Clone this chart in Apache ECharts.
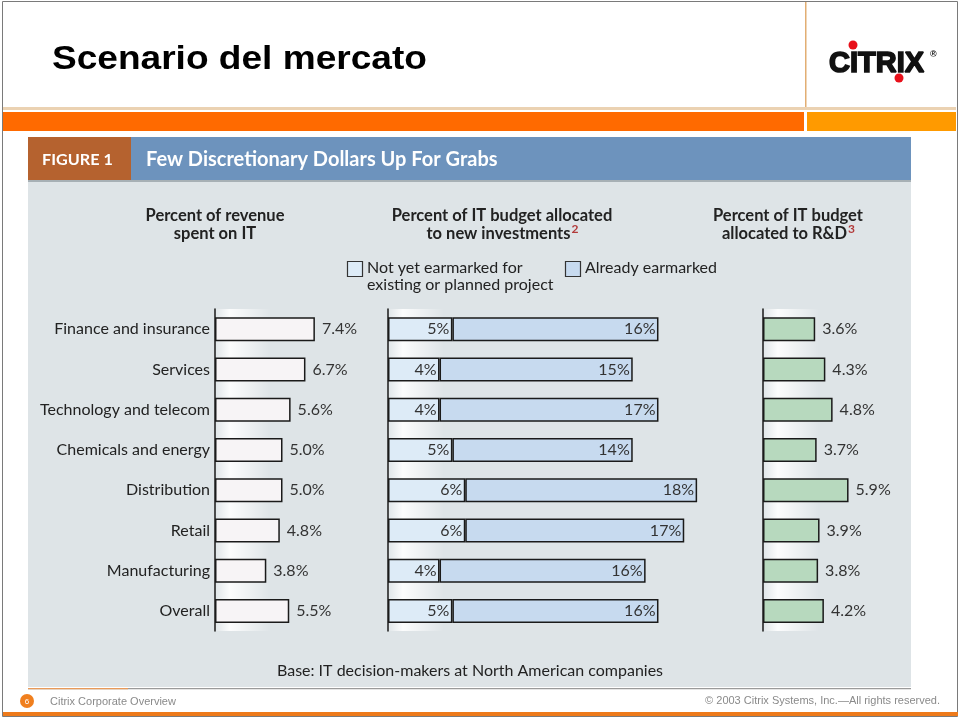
<!DOCTYPE html>
<html>
<head>
<meta charset="utf-8">
<script src="https://cdn.jsdelivr.net/npm/echarts@6/dist/echarts.min.js"></script>
<style>
html,body{margin:0;padding:0;background:#fff;}
#chart{width:960px;height:721px;}
</style>
</head>
<body>
<div id="chart"></div>
<script>
const categories = ['Finance and insurance','Services','Technology and telecom','Chemicals and energy','Distribution','Retail','Manufacturing','Overall'];
const revenueSpentOnIT = [7.4, 6.7, 5.6, 5.0, 5.0, 4.8, 3.8, 5.5];
const notYetEarmarked = [5, 4, 4, 5, 6, 6, 4, 5];
const alreadyEarmarked = [16, 15, 17, 14, 18, 17, 16, 16];
const budgetToRD = [3.6, 4.3, 4.8, 3.7, 5.9, 3.9, 3.8, 4.2];

const FONT = 'Lato, "Open Sans", sans-serif';
const ARIAL = '"Liberation Sans", Arial, sans-serif';
const mctx = document.createElement('canvas').getContext('2d');
function tw(t, f){ mctx.font = f; return mctx.measureText(t).width; }

function txt(x, y, text, opts){
  opts = opts || {};
  const size = opts.size || 16, weight = opts.weight || 'normal', fam = opts.family || FONT;
  const align = opts.align || 'left', va = opts.va || 'middle';
  const st = {
    text:text, fill: opts.color || '#222',
    fontSize:size, fontWeight:weight, fontFamily:fam,
    align:align, textAlign:align, verticalAlign:va, textVerticalAlign:va
  };
  if (opts.stroke){ st.stroke = opts.stroke; st.lineWidth = opts.lineWidth || 1; }
  return {
    type:'text', x:x, y:y, z: opts.z || 5, scaleX: opts.scaleX || 1, originX: 0, originY: 0,
    style:st
  };
}
function rect(x, y, w, h, fill, extra){
  return Object.assign({type:'rect', z:-10, shape:{x:x,y:y,width:w,height:h}, style:{fill:fill}}, extra||{});
}

const graphics = [];
// slide frame and header stripes
graphics.push({type:'rect', z:-20, shape:{x:2.5,y:1.5,width:955,height:715}, style:{fill:'#fff', stroke:'#7a7a7a', lineWidth:1}});
graphics.push(rect(805, 2, 1.5, 106, '#E2AE73'));
graphics.push(rect(3, 107, 953, 3, '#EBD2B2'));
graphics.push(rect(3, 112, 801, 19, '#FF6A00'));
graphics.push(rect(807, 112, 149, 19, '#FF9A00'));
graphics.push(rect(3, 712, 955, 4, '#EE7A1A'));

// slide title
graphics.push(txt(52, 60, 'Scenario del mercato', {size:34, weight:'bold', family:ARIAL, color:'#000', scaleX:1.09}));
// Citrix logo
graphics.push(txt(829, 64, 'CITRIX', {size:29, weight:'bold', family:ARIAL, color:'#111', stroke:'#111', lineWidth:1.6, scaleX:1.0}));
graphics.push({type:'circle', z:6, shape:{cx:853, cy:45, r:4.5}, style:{fill:'#E8101A'}});
graphics.push({type:'circle', z:6, shape:{cx:899, cy:78, r:4.5}, style:{fill:'#E8101A'}});
graphics.push(txt(930, 55, '®', {size:9, weight:'bold', family:ARIAL, color:'#111'}));

// figure panel
graphics.push(rect(28, 137, 883, 550, '#DEE4E7'));
graphics.push(rect(28, 137, 103, 43, '#B5622F'));
graphics.push(rect(131, 137, 780, 43, '#6D93BD'));
graphics.push(rect(28, 180, 883, 2, '#A7B0B5'));
graphics.push(txt(42, 160, 'FIGURE 1', {size:15, weight:'bold', color:'#fff', scaleX:1.08}));
graphics.push(txt(146, 160, 'Few Discretionary Dollars Up For Grabs', {size:20, weight:'bold', color:'#fff'}));

// glows next to axes
[215, 388, 763].forEach(function(ax){
  graphics.push({type:'rect', z:-9, shape:{x:ax+1, y:309, width:55, height:322},
    style:{fill:new echarts.graphic.LinearGradient(0,0,1,0,[
      {offset:0, color:'rgba(255,255,255,0.1)'},
      {offset:0.25, color:'rgba(255,255,255,0.9)'},
      {offset:1, color:'rgba(255,255,255,0)'}])}});
});

// column headers
const HS = 16.5;
const HB = 'bold ' + HS + 'px ' + FONT;
function header(cx, l1, l2, sup){
  graphics.push(txt(cx, 216, l1, {size:HS, weight:'bold', align:'center'}));
  if (!sup){ graphics.push(txt(cx, 234, l2, {size:HS, weight:'bold', align:'center'})); return; }
  const w = tw(l2, HB) + tw(sup, 'bold 12px ' + FONT);
  const x0 = cx - w/2;
  graphics.push(txt(x0, 234, l2, {size:HS, weight:'bold'}));
  graphics.push(txt(x0 + tw(l2, HB) + 1, 229, sup, {size:12, weight:'bold', color:'#B23A3A'}));
}
header(215, 'Percent of revenue', 'spent on IT');
header(502, 'Percent of IT budget allocated', 'to new investments', '2');
header(788, 'Percent of IT budget', 'allocated to R&D', '3');

// legend
graphics.push({type:'rect', z:5, shape:{x:347.5, y:261.5, width:15, height:15}, style:{fill:'#DDEBF7', stroke:'#333', lineWidth:1.2}});
graphics.push(txt(367, 268, 'Not yet earmarked for', {size:16}));
graphics.push(txt(367, 285, 'existing or planned project', {size:16}));
graphics.push({type:'rect', z:5, shape:{x:565.5, y:261.5, width:15, height:15}, style:{fill:'#C7DAEF', stroke:'#333', lineWidth:1.2}});
graphics.push(txt(585, 268, 'Already earmarked', {size:16}));

// base note
graphics.push(txt(470, 671, 'Base: IT decision-makers at North American companies', {size:16, align:'center'}));

// footer
graphics.push(rect(28, 688, 883, 1.2, '#9A9A9A', {z:1}));
graphics.push(rect(28, 688, 100, 1.2, '#E89A5A', {z:2}));
graphics.push({type:'circle', z:5, shape:{cx:27, cy:701, r:7}, style:{fill:'#F07F1E'}});
graphics.push(txt(27, 701.5, '6', {size:8, align:'center', color:'#fff', family:ARIAL}));
graphics.push(txt(50, 702, 'Citrix Corporate Overview', {size:11, color:'#8a8a8a', family:ARIAL}));
graphics.push(txt(940, 701, '© 2003 Citrix Systems, Inc.—All rights reserved.', {size:11, align:'right', color:'#8a8a8a', family:ARIAL}));

const GT = 309, GH = 322;
const yAxisBase = {
  type:'category', data:categories, inverse:true,
  axisLine:{show:true, lineStyle:{color:'#1a1a1a', width:1.5}},
  axisTick:{show:false}, splitLine:{show:false}
};
const border = {borderColor:'#1a1a1a', borderWidth:1.5};
const lbl = {color:'#333', fontSize:16, fontFamily:FONT};

const option = {
  animation:false,
  graphic:{elements:graphics},
  grid:[
    {left:215, top:GT, width:135, height:GH},
    {left:388, top:GT, width:322, height:GH},
    {left:763, top:GT, width:116, height:GH}
  ],
  xAxis:[
    {gridIndex:0, type:'value', min:0, max:10, show:false},
    {gridIndex:1, type:'value', min:0, max:25, show:false},
    {gridIndex:2, type:'value', min:0, max:8, show:false}
  ],
  yAxis:[
    Object.assign({gridIndex:0, axisLabel:{show:true, color:'#222', fontSize:16, fontFamily:FONT, margin:5}}, yAxisBase),
    Object.assign({gridIndex:1, axisLabel:{show:false}}, yAxisBase),
    Object.assign({gridIndex:2, axisLabel:{show:false}}, yAxisBase)
  ],
  series:[
    {name:'Percent of revenue spent on IT', type:'bar', xAxisIndex:0, yAxisIndex:0, data:revenueSpentOnIT, barWidth:24,
     itemStyle:Object.assign({color:'#F7F4F6'}, border),
     label:Object.assign({show:true, position:'right', distance:7, formatter:function(p){return p.value.toFixed(1)+'%';}}, lbl)},
    {name:'Not yet earmarked', type:'bar', stack:'inv', xAxisIndex:1, yAxisIndex:1, data:notYetEarmarked, barWidth:24,
     itemStyle:Object.assign({color:'#DDEBF7'}, border),
     label:Object.assign({show:true, position:'insideRight', distance:3, formatter:'{c}%'}, lbl)},
    {name:'Already earmarked', type:'bar', stack:'inv', xAxisIndex:1, yAxisIndex:1, data:alreadyEarmarked, barWidth:24,
     itemStyle:Object.assign({color:'#C7DAEF'}, border),
     label:Object.assign({show:true, position:'insideRight', distance:3, formatter:'{c}%'}, lbl)},
    {name:'Percent of IT budget allocated to R&D', type:'bar', xAxisIndex:2, yAxisIndex:2, data:budgetToRD, barWidth:24,
     itemStyle:Object.assign({color:'#B7D9BE'}, border),
     label:Object.assign({show:true, position:'right', distance:7, formatter:function(p){return p.value.toFixed(1)+'%';}}, lbl)}
  ]
};
const chart = echarts.init(document.getElementById('chart'), null, {renderer:'canvas'});
chart.setOption(option);
</script>
</body>
</html>
